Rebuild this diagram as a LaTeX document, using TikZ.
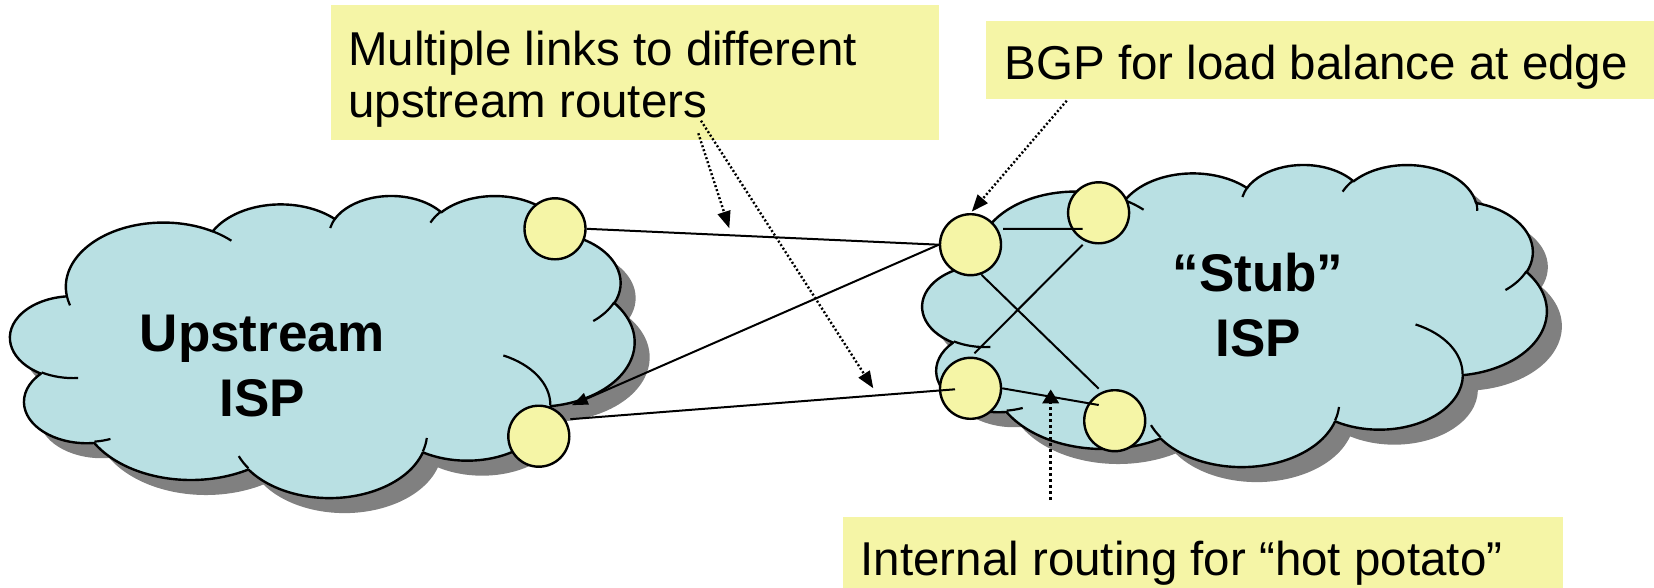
\documentclass[tikz,border=0pt]{standalone}
\usepackage{fontspec}
\setmainfont{Liberation Sans}
\usetikzlibrary{arrows.meta,calc}

\definecolor{cloudfill}{RGB}{185,224,227}
\definecolor{notefill}{RGB}{245,245,166}
\definecolor{shadowgray}{RGB}{128,128,128}

% One elliptic arc of the cloud: x radius, y radius, start angle, sweep.
% The angles are seen angles on the ellipse; they are turned into
% parametric angles before TikZ draws the arc.
\newcommand\cloudarc[4]{%
  \pgfextra{%
    \pgfmathsetmacro\cldS{atan2((#1)*sin(#3),(#2)*cos(#3))}%
    \pgfmathsetmacro\cldE{atan2((#1)*sin((#3)+(#4)),(#2)*cos((#3)+(#4)))}%
    \pgfmathsetmacro\cldD{(\cldE)-(\cldS)-360*round(((\cldE)-(\cldS)-(#4))/360)}%
  }%
  arc[x radius=#1, y radius=#2, start angle=\cldS, delta angle=\cldD]%
}

% cloud outline on a 432 x 432 grid
\newcommand\cloudpath{%
  (39.00,143.70)
  \cloudarc{67.53}{91.90}{-190.4875}{123.7805}
  \cloudarc{53.33}{72.67}{-144.1024}{89.9452}
  \cloudarc{43.65}{59.45}{-145.8079}{99.7230}
  \cloudarc{48.57}{65.95}{-130.9861}{117.2417}
  \cloudarc{53.33}{72.73}{-78.7089}{109.0269}
  \cloudarc{67.75}{92.20}{-46.2673}{130.2690}
  \cloudarc{57.85}{78.67}{0.6250}{114.0333}
  \cloudarc{67.52}{92.15}{22.4516}{115.1726}
  \cloudarc{77.20}{105.43}{66.2426}{75.7110}
  \cloudarc{43.60}{59.18}{-274.9421}{146.7356}
  \cloudarc{43.45}{59.45}{-246.8285}{152.5189}
  -- cycle}

% the short creases inside the cloud
\newcommand\cloudcreases{%
  (46.93,261.77) \cloudarc{43.45}{59.45}{86.742}{26.4295}
  (69.28,348.99) \cloudarc{43.60}{59.18}{73.6105}{11.4475}
  (164.78,390.90) \cloudarc{67.52}{92.15}{137.6242}{14.0811}
  (288.27,347.51) \cloudarc{67.52}{92.15}{6.4533}{15.9984}
  (341.29,229.54) \cloudarc{57.85}{78.67}{-70.2924}{70.9174}
  (417.98,153.54) \cloudarc{53.33}{72.73}{30.3180}{27.7515}
  (383.24,54.26) \cloudarc{48.57}{65.95}{-13.7443}{14.8589}
  (290.78,39.52) \cloudarc{48.57}{65.95}{-149.1815}{18.1954}
  (221.41,47.20) \cloudarc{43.65}{59.45}{-163.4943}{17.6864}
  (140.00,51.92) \cloudarc{67.53}{91.90}{-66.7070}{12.3194}
  (41.27,157.89) \cloudarc{67.53}{91.90}{157.6544}{11.8582}}

% cloud with drop shadow: left, top, width, height
\newcommand\drawcloud[4]{%
  \pgfmathsetmacro\cldsx{#3/432}%
  \pgfmathsetmacro\cldsy{#4/432}%
  \begin{scope}[shift={(#1+15,#2+15)}, x=\cldsx pt, y=-\cldsy pt]
    \fill[shadowgray] \cloudpath;
  \end{scope}
  \begin{scope}[shift={(#1,#2)}, x=\cldsx pt, y=-\cldsy pt]
    \filldraw[fill=cloudfill, draw=black, line width=2.4pt, line join=round] \cloudpath;
    \draw[line width=2.2pt] \cloudcreases;
  \end{scope}}

\begin{document}
\begin{tikzpicture}[x=1pt, y=-1pt,
  router/.style={circle, draw=black, fill=notefill, line width=2.4pt,
    minimum size=61pt, inner sep=0pt},
  link/.style={line width=2pt},
  linkarrow/.style={line width=2pt, -{Triangle[length=16pt,width=12pt]}},
  pointer/.style={line width=2.4pt, dash pattern=on 2pt off 2.2pt,
    -{Triangle[length=17pt,width=13pt]}},
  bigpointer/.style={line width=3.5pt, dash pattern=on 3.5pt off 2.5pt,
    -{Triangle[length=14pt,width=16pt]}},
  notetext/.style={font=\fontsize{47.5pt}{52pt}\selectfont, inner sep=0pt,
    anchor=base west},
  isptext/.style={font=\fontsize{53pt}{65pt}\selectfont\bfseries,
    inner sep=0pt, anchor=base},
]
\useasboundingbox (0,0) rectangle (1654,588);

% the two networks
\drawcloud{10.4}{195}{624}{302}
\drawcloud{922.6}{164}{624}{302}
\node[isptext] (upisp) at (262,351.7)
  {\begin{tabular}[t]{@{}c@{}}Upstream\\ISP\end{tabular}};
\node[isptext] (stubisp) at (1258,291.7)
  {\begin{tabular}[t]{@{}c@{}}“Stub”\\ISP\end{tabular}};

% notes
\fill[notefill] (330.7,5) rectangle (939.3,140);
\node[notetext] (multi) at (348,66)
  {\begin{tabular}[t]{@{}l@{}}Multiple links to different\\upstream routers\end{tabular}};
\fill[notefill] (986.4,20.7) rectangle (1660,99);
\node[notetext] (bgp) at (1004.5,80) {BGP for load balance at edge};
\fill[notefill] (842.9,516.7) rectangle (1563,592);
\node[notetext] (hot) at (860.5,575) {Internal routing for “hot potato”};

% routers
\node[router] (ut) at (555,228.8) {};
\node[router] (ub) at (538.8,436.2) {};
\node[router] (sa) at (970.5,244.7) {};
\node[router] (sb) at (1098.6,212.8) {};
\node[router] (sc) at (970.5,388.3) {};
\node[router] (sd) at (1114.7,420.7) {};

% links between the networks
\draw[link] (ut.east) -- (sa.west);
\coordinate (ubtip) at ($(ub.center)+(33,-31)$);
\draw[linkarrow] (sa.west) -- (ubtip);
\draw[link] ($(ub.center)+(31.5,-17)$) -- ($(sc.center)+(-15.5,1)$);

% links inside the stub network
\draw[link] ($(sa.center)+(32.5,-15.7)$) -- ($(sb.center)+(-16,16)$);
\draw[link] ($(sb.center)+(-16,32)$) -- ($(sc.center)+(4,-35)$);
\draw[link] ($(sa.center)+(11.2,30.3)$) -- ($(sd.center)+(-16,-32)$);
\draw[link] (sc.east) -- ($(sd.center)+(-16,-15.7)$);

% pointers from the notes
\coordinate (multiA) at (698.3,133.3);
\coordinate (multiB) at (701,120.7);
\coordinate (tipA) at (729.3,228.3);
\coordinate (tipB) at (873.3,388.3);
\draw[pointer] (multiA) -- (tipA);
\draw[pointer] (multiB) -- (tipB);
\coordinate (bgpfoot) at (1066.7,100.7);
\draw[pointer] (bgpfoot) -- ($(sa.center)+(1.2,-33)$);
\coordinate (hotfoot) at (1050.7,500);
\coordinate (hottip) at (1050.7,389.3);
\draw[bigpointer] (hotfoot) -- (hottip);
\end{tikzpicture}
\end{document}
